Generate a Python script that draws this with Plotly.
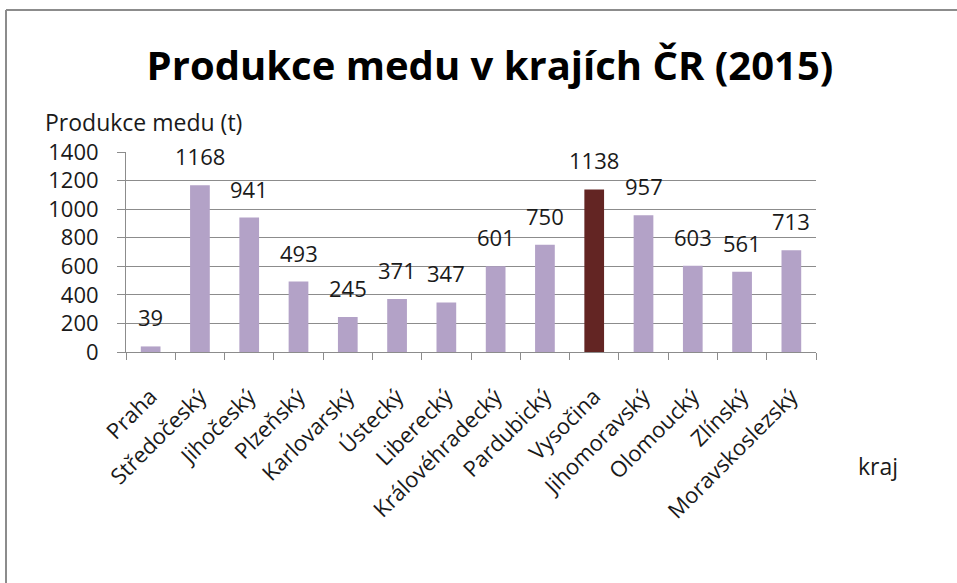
import plotly.graph_objects as go

regions = ["Praha", "Středočeský", "Jihočeský", "Plzeňský", "Karlovarský", "Ústecký",
           "Liberecký", "Královéhradecký", "Pardubický", "Vysočina", "Jihomoravský",
           "Olomoucký", "Zlínský", "Moravskoslezský"]
honey_t = [39, 1168, 941, 493, 245, 371, 347, 601, 750, 1138, 957, 603, 561, 713]
highlight = "Vysočina"
y_ticks = [0, 200, 400, 600, 800, 1000, 1200, 1400]

W, H = 957, 583
L, R, T, B = 126, 816, 152, 352  # plot area in px

BASE = "#B3A2C7"
HIGH = "#632523"
FONT = "'Open Sans', sans-serif"

colors = [HIGH if r == highlight else BASE for r in regions]

fig = go.Figure(go.Bar(x=regions, y=honey_t, marker=dict(color=colors, line=dict(width=0)),
                       width=0.4, hoverinfo="x+y"))

annotations = [dict(x=r, y=v, text=str(v), showarrow=False, yanchor="bottom", yshift=12,
                    font=dict(size=22, color="#1a1a1a", family=FONT))
               for r, v in zip(regions, honey_t)]

def px(xp):
    return (xp - L) / (R - L)

def py(yp):
    return (B - yp) / (B - T)

annotations.append(dict(xref="paper", yref="paper", x=px(43), y=py(122), xanchor="left",
                        yanchor="middle", text="Produkce medu (t)", showarrow=False,
                        font=dict(size=23, color="#1a1a1a", family=FONT)))
annotations.append(dict(xref="paper", yref="paper", x=px(856), y=py(466), xanchor="left",
                        yanchor="middle", text="kraj", showarrow=False,
                        font=dict(size=23, color="#1a1a1a", family=FONT)))

shapes = [
    dict(type="line", xref="paper", yref="paper", x0=px(6), x1=px(960), y0=py(10), y1=py(10),
         line=dict(color="#8c8c8c", width=2)),
    dict(type="line", xref="paper", yref="paper", x0=px(6), x1=px(6), y0=py(10), y1=py(600),
         line=dict(color="#8c8c8c", width=2)),
]

fig.update_layout(
    width=W, height=H,
    margin=dict(l=L, r=W - R, t=T, b=H - B, autoexpand=False),
    paper_bgcolor="white", plot_bgcolor="white",
    title=dict(text="<b>Produkce medu v krajích ČR (2015)</b>", x=px(490), xanchor="center",
               y=1 - 66 / H, yanchor="middle", xref="paper",
               font=dict(size=40, color="#000000", family=FONT)),
    showlegend=False,
    bargap=0.6,
    annotations=annotations,
    shapes=shapes,
    font=dict(family=FONT, color="#1a1a1a"),
)
fig.update_xaxes(type="category", tickangle=-45, showline=True, linecolor="#8c8c8c",
                 linewidth=1, ticks="outside", tickson="boundaries", ticklen=7,
                 tickcolor="#8c8c8c", showgrid=False, tickfont=dict(size=22, family=FONT),
                 ticklabelstandoff=22)
fig.update_yaxes(range=[0, 1400], tickvals=y_ticks, showline=True, linecolor="#8c8c8c",
                 linewidth=1, ticks="outside", ticklen=8, tickcolor="#8c8c8c",
                 showgrid=True, gridcolor="#8c8c8c", gridwidth=1, zeroline=False,
                 tickfont=dict(size=22, family=FONT), ticklabelstandoff=14)

fig.write_html("out.html", config={"displayModeBar": False},
               post_script="document.body.style.margin='0px';")
